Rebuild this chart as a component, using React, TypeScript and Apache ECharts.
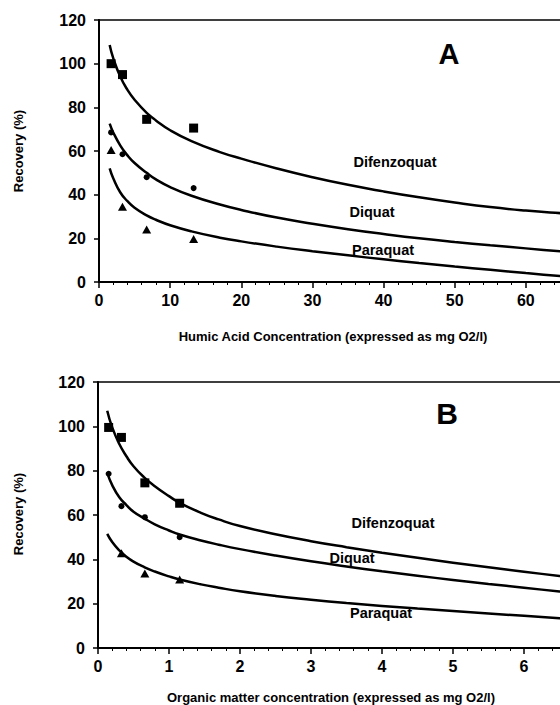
import React, { useEffect, useRef } from "react";
import * as echarts from "echarts";

// ---- Panel A: fitted curves ----
const curveXA = [1.5, 2, 3, 4, 5, 6.7, 8, 10, 13, 17, 20, 25, 30, 35, 40, 45, 50, 55, 60, 65, 68];
const difCurveA = [108.5, 102.5, 94, 88, 83.5, 77.5, 74, 69.5, 64.5, 59.5, 56.5, 52, 48, 44.5, 41.5, 38.8, 36.4, 34.3, 32.7, 31.5, 30.9];
const diqCurveA = [72.5, 68.5, 62.5, 58, 54.5, 50, 47, 43.5, 39.5, 35.5, 33, 29.5, 26.7, 24.2, 22, 20, 18.3, 16.8, 15.4, 14, 13.3];
const parCurveA = [52, 47.5, 41, 37, 34, 30.5, 28.5, 26, 23.2, 20.3, 18.6, 16.2, 14.1, 12.2, 10.4, 8.7, 7.1, 5.6, 4.1, 2.7, 2];

// ---- Panel A: measured points ----
const ptsXA = [1.7, 3.3, 6.7, 13.3];
const difPtsA = [100, 95, 74.5, 70.5];
const diqPtsA = [68.5, 58.5, 48, 43];
const parPtsA = [60.5, 34.5, 24, 19.7];

// ---- Panel B: fitted curves ----
const curveXB = [0.13, 0.2, 0.3, 0.4, 0.5, 0.65, 0.8, 1, 1.15, 1.45, 1.7, 2, 2.5, 3, 3.5, 4, 4.5, 5, 5.5, 6, 6.5, 6.8];
const difCurveB = [107, 99.5, 92, 86.5, 82, 77, 73, 68.5, 65.5, 61, 58, 55, 51.3, 48.2, 45.5, 43, 40.7, 38.5, 36.4, 34.4, 32.5, 31.4];
const diqCurveB = [79, 73.5, 68, 64.5, 61.5, 58.5, 55.8, 53, 51.2, 48.5, 46.6, 44.6, 41.7, 39.1, 36.8, 34.6, 32.6, 30.7, 28.9, 27.2, 25.5, 24.6];
const parCurveB = [51.5, 47.8, 44, 41.2, 39, 36.5, 34.5, 32.3, 30.9, 28.7, 27.2, 25.6, 23.5, 21.8, 20.3, 19, 17.8, 16.7, 15.6, 14.5, 13.4, 12.8];

// ---- Panel B: measured points ----
const ptsXB = [0.15, 0.33, 0.66, 1.15];
const difPtsB = [99.5, 95, 74.5, 65.3];
const diqPtsB = [78.6, 64, 59, 50];
const parPtsXB = [0.33, 0.66, 1.15];
const parPtsB = [42.7, 33.6, 30.9];

const yTicks = [0, 20, 40, 60, 80, 100, 120];
const seriesNames = ["Difenzoquat", "Diquat", "Paraquat"];

const FONT = '"Liberation Sans", Arial, Helvetica, sans-serif';

const zip = (xs: number[], ys: number[]) => xs.map((x, i) => [x, ys[i]]);

const INNER_W = 612;

export default function App() {
  const ref = useRef<HTMLDivElement>(null);
  useEffect(() => {
    if (!ref.current) return;
    const chart = echarts.init(ref.current, null, { renderer: "svg" });

    const xAxisBase = (gridIndex: number, max: number, interval: number) => ({
      type: "value",
      gridIndex,
      min: 0,
      max,
      interval,
      axisLine: { show: true, onZero: false, lineStyle: { color: "#000", width: 2 } },
      axisTick: { show: true, length: 6, lineStyle: { color: "#000", width: 1.5 } },
      minorTick: { show: true, splitNumber: 5, length: 3, lineStyle: { color: "#000", width: 1 } },
      splitLine: { show: false },
      axisLabel: {
        color: "#000",
        fontFamily: FONT,
        fontWeight: "bold",
        fontSize: 16,
        margin: 10,
        showMaxLabel: false,
      },
    });

    const yAxisBase = (gridIndex: number) => ({
      type: "value",
      gridIndex,
      min: yTicks[0],
      max: yTicks[yTicks.length - 1],
      interval: yTicks[1] - yTicks[0],
      axisLine: { show: true, lineStyle: { color: "#000", width: 2 } },
      axisTick: { show: true, length: 5, lineStyle: { color: "#000", width: 1.5 } },
      splitLine: { show: false },
      axisLabel: {
        color: "#000",
        fontFamily: FONT,
        fontWeight: "bold",
        fontSize: 16,
        margin: 13,
      },
    });

    const curve = (name: string, xi: number, xs: number[], ys: number[]) => ({
      name,
      type: "line",
      xAxisIndex: xi,
      yAxisIndex: xi,
      data: zip(xs, ys),
      smooth: 0.5,
      symbol: "none",
      lineStyle: { color: "#000", width: 2.5 },
      silent: true,
      z: 2,
    });

    const pts = (name: string, xi: number, xs: number[], ys: number[], symbol: string, size: number | number[]) => ({
      name,
      type: "scatter",
      xAxisIndex: xi,
      yAxisIndex: xi,
      data: zip(xs, ys),
      symbol,
      symbolSize: size,
      itemStyle: { color: "#000", opacity: 1 },
      z: 3,
    });

    const txt = (text: string, x: number, y: number, size: number, extra: any = {}) => ({
      type: "text",
      x,
      y,
      ...extra,
      style: {
        text,
        fill: "#000",
        font: `bold ${size}px ${FONT}`,
        align: "center",
        verticalAlign: "middle",
        textAlign: "center",
        textVerticalAlign: "middle",
      },
    });

    // Panel A: x 0..70 from left 99 -> right edge at 597 (clipped by the 560px frame)
    // Panel B: x 0..7 from left 98 -> right edge at 595
    chart.setOption({
      animation: false,
      backgroundColor: "#fff",
      grid: [
        { left: 99, top: 20, right: INNER_W - 597, height: 262, show: true, borderColor: "#000", borderWidth: 1.5, containLabel: false },
        { left: 98, top: 382, right: INNER_W - 595, height: 266, show: true, borderColor: "#000", borderWidth: 1.5, containLabel: false },
      ],
      xAxis: [xAxisBase(0, 70, 10), xAxisBase(1, 7, 1)],
      yAxis: [yAxisBase(0), yAxisBase(1)],
      series: [
        curve(seriesNames[0], 0, curveXA, difCurveA),
        curve(seriesNames[1], 0, curveXA, diqCurveA),
        curve(seriesNames[2], 0, curveXA, parCurveA),
        pts(seriesNames[0], 0, ptsXA, difPtsA, "rect", 9),
        pts(seriesNames[1], 0, ptsXA, diqPtsA, "circle", 6),
        pts(seriesNames[2], 0, ptsXA, parPtsA, "triangle", [9, 8]),
        curve(seriesNames[0], 1, curveXB, difCurveB),
        curve(seriesNames[1], 1, curveXB, diqCurveB),
        curve(seriesNames[2], 1, curveXB, parCurveB),
        pts(seriesNames[0], 1, ptsXB, difPtsB, "rect", 9),
        pts(seriesNames[1], 1, ptsXB, diqPtsB, "circle", 6),
        pts(seriesNames[2], 1, parPtsXB, parPtsB, "triangle", [9, 8]),
      ],
      graphic: [
        txt("Recovery (%)", 18, 151, 13, { rotation: Math.PI / 2 }),
        txt("Recovery (%)", 18, 514, 13, { rotation: Math.PI / 2 }),
        txt("Humic Acid Concentration (expressed as mg O2/l)", 333, 336, 13),
        txt("Organic matter concentration (expressed as mg O2/l)", 331, 697, 13),
        txt("A", 449, 54, 29),
        txt("B", 447, 413, 30),
        txt(seriesNames[0], 395, 162, 14.5),
        txt(seriesNames[1], 372, 212, 14.5),
        txt(seriesNames[2], 383, 250, 14.5),
        txt(seriesNames[0], 393, 523, 14.5),
        txt(seriesNames[1], 352, 558, 14.5),
        txt(seriesNames[2], 381, 613, 14.5),
      ],
    });
    return () => chart.dispose();
  }, []);
  return (
    <div
      style={{ position: "absolute", left: 0, top: 0, width: 560, height: 705, overflow: "hidden", background: "#fff" }}
    >
      <div ref={ref} style={{ width: INNER_W, height: 705 }} />
    </div>
  );
}
